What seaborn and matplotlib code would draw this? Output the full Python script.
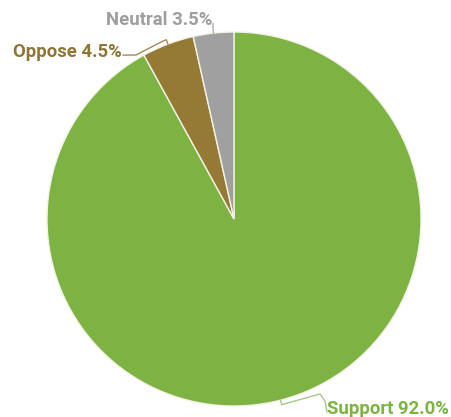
import numpy as np
import matplotlib
matplotlib.use("Agg")
import matplotlib.pyplot as plt
import seaborn as sns

categories = ["Support", "Oppose", "Neutral"]
values = [92.0, 4.5, 3.5]
labels = ["Support 92.0%", "Oppose 4.5%", "Neutral 3.5%"]

sns.set_theme(style="white")
plt.rcParams["font.family"] = ["Roboto", "DejaVu Sans"]

colors = sns.color_palette(["#7cb342", "#957a36", "#a0a0a0"])
text_colors = ["#7cb342", "#8f7636", "#9e9e9e"]
line_colors = ["#a9c98a", "#a08a55", "#b0b0b0"]

W, H = 452, 417
cx, cy, R = 234, 219, 187
fig = plt.figure(figsize=(W / 100, H / 100), dpi=100)
ax = fig.add_axes([(cx - R) / W, (H - cy - R) / H, 2 * R / W, 2 * R / H])

wedges, _ = ax.pie(values, colors=colors, startangle=90, counterclock=False,
                   radius=1.0,
                   wedgeprops=dict(edgecolor="#f4f1e6", linewidth=1.0))
ax.set_xlim(-1, 1)
ax.set_ylim(-1, 1)
ax.set_aspect("equal")
ax.axis("off")

# label placement (layout, in pixel offsets from the chart)
def d(px, py):
    return ((px - cx) / R, (cy - py) / R)

label_pos = [d(327, 414), d(122, 57), d(212, 25)]
label_ha = ["left", "right", "right"]
# elbow points of the leader lines (layout)
elbows = [[d(320, 394), d(325, 401)], [d(163, 41), d(136, 55)], []]

for w, lab, pos, ha, tc, lc, elb in zip(wedges, labels, label_pos, label_ha,
                                         text_colors, line_colors, elbows):
    ang = np.deg2rad((w.theta1 + w.theta2) / 2)
    p0 = (np.cos(ang) * 1.0, np.sin(ang) * 1.0)
    p1 = (np.cos(ang) * 1.025, np.sin(ang) * 1.025)
    pts = [p0, p1] + elb + [(pos[0] + (0.0 if ha == "left" else 0.005), pos[1] + 0.01)]
    xs, ys = zip(*pts)
    ax.plot(xs, ys, color=lc, lw=1.0, clip_on=False, solid_joinstyle="miter")
    ax.text(pos[0], pos[1], lab, ha=ha, va="baseline", color=tc,
            fontsize=13.3, fontweight="bold", clip_on=False)

fig.savefig("out.png", dpi=100, facecolor="white")
